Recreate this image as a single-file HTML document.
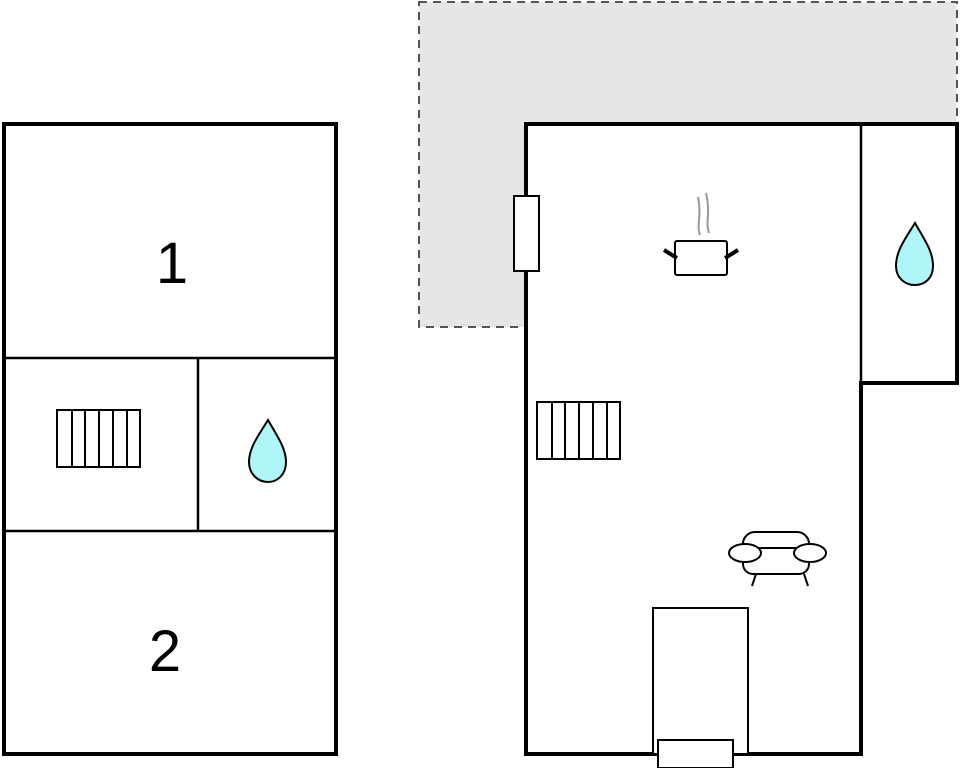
<!DOCTYPE html>
<html><head><style>body{margin:0;background:#fff;width:960px;height:768px;overflow:hidden}</style></head><body>
<svg width="960" height="768" xmlns="http://www.w3.org/2000/svg" font-family="Liberation Sans, sans-serif">
<path d="M419,2 H957 V124 H525 V327 H419 Z" fill="#e6e6e6" stroke="#555" stroke-width="2" stroke-dasharray="8,6"/>
<rect x="4" y="124" width="332" height="630" fill="#fff" stroke="#000" stroke-width="4"/>
<g stroke="#000" stroke-width="2.5">
<line x1="5" y1="358" x2="335" y2="358"/><line x1="5" y1="531" x2="335" y2="531"/><line x1="198" y1="358" x2="198" y2="531"/>
</g>
<text x="172" y="283" font-size="58" text-anchor="middle">1</text>
<text x="165" y="671" font-size="58" text-anchor="middle">2</text>
<path d="M526,124 H957 V383 H861 V754 H526 Z" fill="#fff" stroke="#000" stroke-width="4"/>
<line x1="861" y1="124" x2="861" y2="383" stroke="#000" stroke-width="2.5"/>
<g fill="none" stroke="#000" stroke-width="2">
<rect x="57" y="410" width="83" height="57"/>
<path d="M72,410V467M85,410V467M99,410V467M113,410V467M127,410V467"/>
<rect x="537" y="402" width="83" height="57"/>
<path d="M552,402V459M565,402V459M579,402V459M593,402V459M607,402V459"/>
</g>
<rect x="514" y="196" width="25" height="75" fill="#fff" stroke="#000" stroke-width="2"/>
<rect x="653" y="608" width="95" height="146" fill="#fff" stroke="#000" stroke-width="2"/>
<rect x="658" y="740" width="75" height="28" fill="#fff" stroke="#000" stroke-width="2"/>
<g fill="#aef6f8" stroke="#000" stroke-width="2">
<path d="M268,420 C258,436 249,448 249,462 C249,474 258,482 268,482 C278,482 286,474 286,462 C286,448 277,436 268,420Z"/>
<path d="M915,223 C905,239 896,251 896,266 C896,278 905,285 915,285 C925,285 933,278 933,266 C933,251 924,239 915,223Z"/>
</g>
<g fill="none" stroke="#999" stroke-width="2">
<path d="M700,235 C696,225 702,218 698,197"/><path d="M709,233 C705,222 711,215 706,193"/>
</g>
<g fill="none" stroke="#000" stroke-width="2">
<rect x="675" y="241" width="52" height="34" rx="2"/>
<path d="M664,250 L677,258 M738,250 L725,258" stroke-width="4"/>
<rect x="743" y="532" width="66" height="30" rx="12" fill="#fff"/>
<rect x="743" y="548" width="66" height="26" rx="10" fill="#fff"/>
<ellipse cx="745" cy="553" rx="16" ry="9" fill="#fff"/>
<ellipse cx="810" cy="553" rx="16" ry="9" fill="#fff"/>
<path d="M756,574 L752,586 M804,574 L808,586"/>
</g>
</svg>
</body></html>
